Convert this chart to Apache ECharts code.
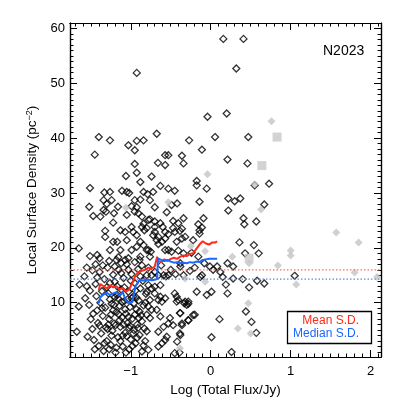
<!DOCTYPE html>
<html>
<head>
<meta charset="utf-8">
<script src="https://cdn.jsdelivr.net/npm/echarts@6/dist/echarts.min.js"></script>
<style>
  html, body { margin: 0; padding: 0; background: #fff; }
  #main { width: 402px; height: 402px; }
</style>
</head>
<body>
<div id="main"></div>
<script>
// axis ranges and tick labels
const xMin = -1.76, xMax = 2.13;
const yMin = 0.1, yMax = 61;
const xMajor = [-1, 0, 1, 2];
const yMajor = [10, 20, 30, 40, 50, 60];

// horizontal reference levels (mean / median surface density)
const meanLevel = 16.0;
const medianLevel = 14.3;

// running mean / median curves
const lineX = [-1.40, -1.38, -1.34, -1.30, -1.26, -1.22, -1.18, -1.14, -1.10, -1.06, -1.02, -0.98, -0.94, -0.90, -0.86, -0.82, -0.78, -0.74, -0.70, -0.67, -0.66, -0.62, -0.58, -0.54, -0.50, -0.46, -0.42, -0.38, -0.34, -0.30, -0.26, -0.22, -0.18, -0.14, -0.10, -0.06, -0.02, 0.02, 0.06, 0.08];
const meanY = [12.3, 13.4, 13.0, 12.6, 13.2, 12.8, 13.0, 12.4, 12.7, 12.0, 12.4, 13.6, 15.0, 15.6, 15.8, 16.0, 16.4, 16.2, 16.6, 18.4, 17.6, 17.4, 17.9, 17.6, 18.0, 18.2, 18.0, 18.4, 18.6, 18.5, 18.9, 19.0, 19.8, 20.6, 21.2, 20.8, 20.6, 21.0, 21.0, 21.2];
const medianY = [9.9, 11.0, 11.5, 11.8, 11.4, 11.7, 11.9, 11.3, 11.9, 10.4, 9.9, 10.1, 13.0, 14.0, 14.1, 14.0, 14.2, 14.1, 14.2, 14.3, 18.1, 17.8, 17.6, 17.8, 17.5, 17.3, 17.4, 17.2, 17.3, 17.2, 17.4, 17.3, 17.5, 17.4, 17.8, 17.9, 18.0, 18.0, 18.0, 18.0];

// open black diamonds
const blackPts = [
  [0.158, 58.1], [0.41, 58.1], [0.32, 52.7], [-0.925, 51.9], [-0.04, 43.9], [0.2, 44.5],
  [-1.40, 40.2], [-1.26, 39.6], [-0.925, 39.5], [-0.84, 39.6], [-1.03, 38.7], [-0.95, 37.8],
  [-0.675, 40.8], [-0.27, 39.6], [0.054, 40.2], [0.47, 40.2], [-0.11, 37.9], [-1.45, 37.0],
  [-0.57, 36.9], [-0.53, 36.9], [-0.36, 36.8], [-0.66, 35.5], [-0.57, 35.1], [-0.34, 35.4],
  [-0.95, 35.3], [0.21, 36.1], [0.46, 35.4], [-0.925, 33.7], [-1.06, 33.1], [-0.74, 33.0],
  [-0.175, 32.2], [-0.175, 31.4], [-0.05, 30.8], [-0.88, 32.0], [-1.51, 30.9], [0.55, 31.4],
  [0.73, 31.7], [-0.53, 30.8], [-0.63, 31.3], [-1.33, 30.1], [-1.26, 30.2], [-1.11, 30.4],
  [-1.05, 30.2], [-1.02, 30.0], [-0.84, 30.2], [-0.79, 29.8], [-0.72, 30.2], [-0.45, 30.4],
  [0.22, 29.0], [0.37, 29.0], [0.30, 28.5], [-0.14, 28.4], [-1.52, 27.5], [-1.30, 28.0],
  [-1.34, 28.7], [-1.24, 28.7], [-1.16, 27.5], [-0.95, 28.7], [-0.88, 28.8], [-0.76, 28.7],
  [-0.70, 27.4], [-0.49, 27.8], [-0.42, 28.1], [0.22, 26.8], [0.67, 27.9], [-0.55, 26.5],
  [-0.95, 26.6], [-0.905, 26.3], [-1.47, 25.8], [-1.38, 25.7], [-1.21, 26.3], [-1.31, 26.6],
  [-1.34, 26.9], [-1.05, 26.0], [-0.86, 25.7], [-0.99, 27.6], [-0.925, 27.4], [-0.76, 25.2],
  [-0.34, 25.4], [-0.09, 25.4], [0.41, 25.4], [0.42, 24.3], [0.57, 24.8], [-0.155, 24.3],
  [-0.11, 23.7], [-1.22, 24.6], [-1.13, 23.2], [-0.99, 23.8], [-0.84, 24.4], [-0.70, 23.8],
  [-0.60, 23.8], [-0.47, 24.9], [-0.36, 23.5], [-1.32, 23.1], [-1.32, 22.0], [-1.07, 22.9],
  [-0.97, 22.9], [-0.925, 22.3], [-0.86, 23.8], [-0.83, 23.2], [-0.78, 25.1], [-0.70, 24.8],
  [-0.63, 24.5], [-0.80, 23.6], [-0.70, 22.9], [-0.72, 22.3], [-0.655, 22.0], [-0.57, 22.9],
  [-0.53, 22.5], [-0.47, 23.6], [-0.45, 22.9], [-0.405, 24.5], [-0.385, 23.1], [-0.14, 23.2],
  [-0.14, 22.6], [0.36, 21.0], [-1.22, 21.1], [-1.17, 21.1], [-1.05, 21.4], [-0.88, 21.1],
  [-0.84, 20.5], [-0.675, 21.4], [-0.655, 20.7], [-0.61, 21.1], [-0.57, 21.7], [-0.425, 21.1],
  [-0.36, 21.7], [-0.32, 22.0], [-0.22, 21.4], [-1.65, 19.9], [-1.51, 18.5], [-1.42, 18.7],
  [-1.39, 18.1], [-1.26, 19.6], [-1.13, 19.6], [-1.155, 18.3], [-1.07, 17.8], [-0.99, 19.6],
  [-0.925, 20.2], [-0.88, 18.4], [-0.78, 19.6], [-0.80, 19.6], [-0.75, 19.3], [-0.57, 19.6],
  [-0.53, 19.6], [-0.49, 19.3], [-0.405, 19.5], [-0.34, 19.0], [-0.24, 19.1], [-0.155, 18.4],
  [-1.18, 17.8], [-1.03, 18.1], [-0.89, 17.8], [-0.76, 18.4], [-0.38, 17.2], [0.43, 19.0],
  [0.54, 20.5], [0.60, 19.0], [0.21, 17.2], [0.28, 16.6], [0.08, 16.6], [0.03, 16.0],
  [-0.08, 17.2], [-0.01, 16.6], [0.12, 15.6], [0.15, 14.7], [0.28, 14.4], [0.40, 14.3],
  [0.58, 14.0], [0.67, 13.5], [0.19, 13.3], [0.48, 12.8], [1.05, 14.9], [-0.13, 14.7],
  [-0.175, 12.0], [-0.05, 11.4], [0.01, 12.0], [0.21, 11.7], [0.44, 8.4], [0.51, 6.5],
  [0.57, 4.5], [0.11, 7.0], [0.01, 3.7], [0.26, 1.0], [-0.22, 7.75], [-0.28, 6.8],
  [-0.38, 8.1], [-0.32, 10.2], [-0.28, 9.8], [-0.36, 5.9], [-0.38, 4.1], [-0.42, 2.9],
  [-0.39, 0.9], [-1.65, 9.3], [-1.675, 4.7], [-1.64, 13.3], [-0.11, 15.0], [-0.80, 15.0],
  [-0.74, 15.0], [-0.655, 15.0], [-0.59, 15.0], [-0.53, 15.0], [-0.78, 13.2], [-0.74, 12.6],
  [-0.70, 12.9], [-0.63, 13.2], [-0.80, 12.0], [-0.70, 11.7], [-0.63, 11.1], [-0.76, 10.5],
  [-0.655, 10.5], [-0.61, 10.2], [-0.57, 10.8], [-0.45, 11.7], [-0.425, 11.1], [-0.405, 10.5],
  [-0.425, 10.2], [-0.33, 9.9], [-0.30, 9.6], [-0.28, 10.2], [-0.78, 9.3], [-0.74, 8.7],
  [-0.80, 7.8], [-0.675, 8.7], [-0.76, 7.2], [-0.63, 7.5], [-0.385, 8.1], [-0.20, 7.8],
  [-0.51, 7.2], [-0.28, 6.8], [-0.53, 6.2], [-0.36, 6.2], [-0.59, 5.6], [-0.47, 5.9],
  [-0.655, 4.7], [-0.55, 3.8], [-0.385, 4.4], [-0.57, 3.2], [-0.61, 2.6], [-0.655, 2.0],
  [-0.78, 1.4], [-0.45, 0.8],
  [-1.58, 14.8], [-1.55, 13.0], [-1.52, 9.6], [-1.50, 7.0], [-1.48, 5.2], [-1.46, 3.2],
  [-1.44, 13.4], [-1.43, 11.2], [-1.42, 8.6], [-1.41, 6.3], [-1.40, 2.1], [-1.39, 15.6],
  [-1.38, 10.0], [-1.37, 4.4], [-1.36, 12.1], [-1.35, 7.6], [-1.34, 1.2], [-1.33, 14.3],
  [-1.32, 9.1], [-1.31, 5.5], [-1.30, 3.0], [-1.29, 16.4], [-1.28, 11.7], [-1.27, 7.0],
  [-1.26, 13.6], [-1.25, 2.3], [-1.24, 9.8], [-1.23, 4.9], [-1.22, 15.1], [-1.21, 6.2],
  [-1.20, 11.0], [-1.19, 0.9], [-1.18, 8.3], [-1.17, 13.0], [-1.16, 3.7], [-1.15, 16.0],
  [-1.14, 9.4], [-1.13, 5.6], [-1.12, 12.4], [-1.11, 7.3], [-1.10, 2.0], [-1.09, 14.5],
  [-1.08, 10.3], [-1.07, 4.5], [-1.06, 8.0], [-1.05, 17.0], [-1.04, 6.3], [-1.03, 12.0],
  [-1.02, 1.5], [-1.01, 9.2], [-1.00, 3.3], [-0.99, 15.2], [-0.98, 7.1], [-0.97, 11.1],
  [-0.96, 5.0], [-0.95, 13.6], [-0.94, 2.6], [-0.93, 8.8], [-0.92, 6.0], [-0.91, 16.1],
  [-0.90, 10.4], [-0.89, 4.1], [-0.88, 12.6], [-0.87, 7.7], [-0.86, 1.1], [-0.85, 14.0],
  [-0.84, 9.5], [-0.83, 5.3], [-0.82, 3.0], [-0.81, 11.6],
  [-1.57, 10.8], [-1.54, 3.8], [-1.51, 12.2], [-1.47, 8.0], [-1.45, 1.5], [-1.42, 14.6],
  [-1.39, 5.8], [-1.36, 9.0], [-1.33, 2.6], [-1.30, 12.8], [-1.28, 6.0], [-1.26, 10.6],
  [-1.24, 4.0], [-1.22, 8.6], [-1.20, 13.8], [-1.18, 1.8], [-1.16, 10.8], [-1.14, 6.8],
  [-1.12, 15.4], [-1.10, 4.0], [-1.08, 12.8], [-1.06, 0.9], [-1.04, 10.6], [-1.02, 5.4],
  [-1.00, 14.0], [-0.98, 2.1], [-0.96, 9.9], [-0.94, 12.2], [-0.92, 3.6], [-0.90, 7.2],
  [-0.88, 14.8], [-0.86, 6.6], [-0.84, 2.2], [-0.82, 10.0], [-0.80, 4.8],
  [-1.19, 5.9], [-1.15, 7.9], [-1.13, 3.0], [-1.11, 10.1], [-1.09, 6.0], [-1.07, 8.8],
  [-1.05, 3.9], [-1.03, 7.4], [-1.01, 5.8], [-0.99, 10.8], [-0.97, 4.4], [-0.95, 7.8],
  [-0.93, 10.9], [-0.91, 5.4], [-0.89, 8.4], [-1.17, 11.4], [-1.21, 9.6], [-1.25, 7.8],
  [-1.29, 5.2], [-1.27, 1.5],
  [-1.55, 16.4], [-1.48, 15.9], [-1.44, 17.0], [-1.35, 16.8], [-1.27, 17.6], [-1.20, 16.6],
  [-1.12, 17.2], [-1.03, 16.0], [-0.95, 17.4], [-0.86, 16.8],
  [-0.78, 16.4], [-0.70, 15.6], [-0.62, 16.8], [-0.56, 14.8], [-0.50, 16.0], [-0.44, 15.2],
  [-0.38, 16.6], [-0.34, 15.0], [-0.26, 15.8], [-0.20, 16.4]
];

// filled grey diamonds
const greyPts = [
  [0.76, 43.1], [-0.04, 33.4], [0.55, 31.6], [0.63, 27.0], [-1.06, 27.3], [-0.53, 28.3],
  [-0.25, 20.3], [-0.07, 19.4], [0.27, 18.4], [0.48, 17.2], [0.84, 16.8], [1.00, 19.5],
  [1.00, 18.6], [1.07, 13.3], [1.57, 22.8], [1.85, 21.0], [1.80, 15.5], [2.08, 14.7],
  [-0.32, 14.4], [-0.07, 13.8], [0.47, 9.9], [0.34, 5.3], [0.50, 4.4], [-0.385, 1.7]
];
// larger grey blocks
const greyBig = [[0.83, 40.2], [0.64, 35.0], [0.48, 18.1]];

// minor tick positions
const xMinor = [];
for (let v = -1.7; v < xMax; v += 0.1) xMinor.push(Math.round(v * 10) / 10);
const yMinor = [];
for (let v = 1; v < yMax; v += 1) yMinor.push(v);

const font = 'Liberation Sans';
const minus = v => String(v).replace('-', '\u2212');

function xAxisDef(pos, values, len, labels, extra) {
  return Object.assign({
    type: 'value', position: pos, min: xMin, max: xMax,
    axisLine: { show: true, onZero: false, lineStyle: { color: '#000', width: 1.2 } },
    axisTick: { show: true, inside: true, length: len, customValues: values, lineStyle: { color: '#000', width: 1 } },
    axisLabel: labels ? { show: true, customValues: values, formatter: minus, color: '#000', fontSize: 13, fontFamily: font, margin: 8 } : { show: false },
    splitLine: { show: false }
  }, extra || {});
}
function yAxisDef(pos, values, len, labels, extra) {
  return Object.assign({
    type: 'value', position: pos, min: yMin, max: yMax,
    axisLine: { show: true, onZero: false, lineStyle: { color: '#000', width: 1.2 } },
    axisTick: { show: true, inside: true, length: len, customValues: values, lineStyle: { color: '#000', width: 1 } },
    axisLabel: labels ? { show: true, customValues: values, color: '#000', fontSize: 13, fontFamily: font, margin: 5 } : { show: false },
    splitLine: { show: false }
  }, extra || {});
}

const chart = echarts.init(document.getElementById('main'));
chart.setOption({
  animation: false,
  backgroundColor: '#fff',
  textStyle: { fontFamily: font },
  grid: { left: 70, right: 21, top: 23, bottom: 45, containLabel: false },
  title: {
    text: 'N2023', left: 318, top: 39,
    textStyle: { fontSize: 14, fontWeight: 'normal', color: '#000', fontFamily: font }
  },
  xAxis: [
    xAxisDef('bottom', xMajor, 7, true, {
      name: 'Log (Total Flux/Jy)', nameLocation: 'middle', nameGap: 21,
      nameTextStyle: { fontSize: 13.5, color: '#000', fontFamily: font }
    }),
    xAxisDef('bottom', xMinor, 3.5, false),
    xAxisDef('top', xMajor, 7, false),
    xAxisDef('top', xMinor, 3.5, false)
  ],
  yAxis: [
    yAxisDef('left', yMajor, 7, true, {
      name: '{n|Local Surface Density (pc}{s|\u22122}{n|)}', nameLocation: 'middle', nameGap: 19,
      nameTextStyle: {
        rich: {
          n: { fontSize: 13.5, color: '#000', fontFamily: font },
          s: { fontSize: 9, color: '#000', fontFamily: font, verticalAlign: 'top', padding: [0, 0, 6, 0] }
        }
      }
    }),
    yAxisDef('left', yMinor, 3.5, false),
    yAxisDef('right', yMajor, 7, false),
    yAxisDef('right', yMinor, 3.5, false)
  ],
  series: [
    {
      type: 'scatter', data: blackPts, symbol: 'diamond', symbolSize: 7,
      itemStyle: { color: 'rgba(0,0,0,0)', borderColor: '#000', borderWidth: 1.3 }, z: 2
    },
    {
      type: 'scatter', data: greyPts, symbol: 'diamond', symbolSize: 8,
      itemStyle: { color: '#c4c4c4' }, z: 3
    },
    {
      type: 'scatter', data: greyBig, symbol: 'rect', symbolSize: 9,
      itemStyle: { color: '#c8c8c8' }, z: 3
    },
    {
      type: 'line', data: [[xMin, meanLevel], [xMax, meanLevel]], symbol: 'none',
      lineStyle: { color: '#f07070', width: 1.3, type: [1.5, 2] }, z: 4
    },
    {
      type: 'line', data: [[xMin, medianLevel], [xMax, medianLevel]], symbol: 'none',
      lineStyle: { color: '#5a8ae8', width: 1.3, type: [1.5, 2] }, z: 4
    },
    {
      type: 'line', data: lineX.map((x, i) => [x, meanY[i]]), symbol: 'none',
      lineStyle: { color: '#ff2a1a', width: 2 }, z: 5
    },
    {
      type: 'line', data: lineX.map((x, i) => [x, medianY[i]]), symbol: 'none',
      lineStyle: { color: '#1a66ff', width: 2 }, z: 5
    }
  ],
  graphic: [
    {
      type: 'rect', shape: { x: 287.5, y: 311.5, width: 84, height: 32 },
      style: { fill: '#fff', stroke: '#000', lineWidth: 1.3 }, z: 10
    },
    {
      type: 'text', x: 359, y: 321, z: 11,
      style: { text: 'Mean S.D.', fill: '#ff2a1a', fontSize: 12, fontFamily: font, align: 'right', verticalAlign: 'middle' }
    },
    {
      type: 'text', x: 359, y: 334, z: 11,
      style: { text: 'Median S.D.', fill: '#1a66ff', fontSize: 12, fontFamily: font, align: 'right', verticalAlign: 'middle' }
    }
  ]
});
</script>
</body>
</html>
